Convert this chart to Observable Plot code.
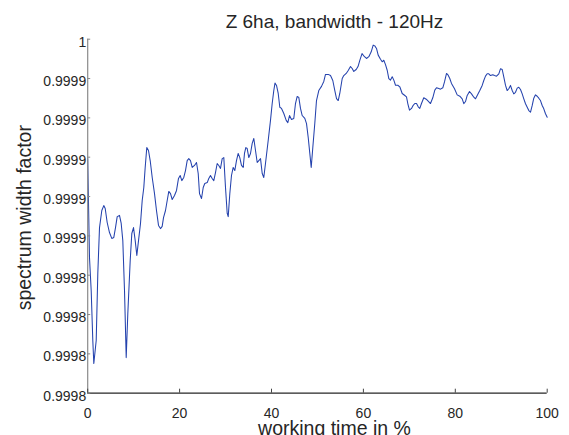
<!DOCTYPE html>
<html><head><meta charset="utf-8">
<script src="https://cdn.jsdelivr.net/npm/d3@7"></script>
<script src="https://cdn.jsdelivr.net/npm/@observablehq/plot@0.6"></script>
<style>body{margin:0;background:#fff}</style>
</head><body><div id="chart"></div>
<script>
const titleText = "Z 6ha, bandwidth - 120Hz";
const xLabel = "working time in %";
const yLabel = "spectrum width factor";
const xTicks = [0, 20, 40, 60, 80, 100];
const yTicks = [0.99982, 0.99984, 0.99986, 0.99988, 0.9999, 0.99992, 0.99994, 0.99996, 0.99998, 1];
const yTickLabels = ["0.9998", "0.9998", "0.9998", "0.9998", "0.9999", "0.9999", "0.9999", "0.9999", "0.9999", "1"];

const timePct = [0,0.39,0.76,1.11,1.33,1.85,2.20,2.57,3.07,3.50,3.81,4.24,4.74,5.24,5.68,6.05,6.42,6.92,7.29,7.64,
8.01,8.38,8.73,9.25,9.60,9.97,10.34,10.69,11.06,11.49,11.86,12.21,12.51,12.86,13.23,13.60,14.04,14.54,14.97,15.41,
15.84,16.21,16.50,16.93,17.30,17.65,18.02,18.39,18.89,19.33,19.76,20.13,20.48,20.91,21.28,21.65,22.00,22.37,22.74,23.24,
23.68,24.05,24.33,24.77,25.14,25.48,26.01,26.35,26.72,27.09,27.44,27.81,28.18,28.53,28.90,29.27,29.62,29.99,30.36,30.58,
30.93,31.29,31.66,32.01,32.38,32.75,33.10,33.47,33.84,34.12,34.41,34.71,35.06,35.43,35.80,36.15,36.52,36.89,37.24,37.61,
37.98,38.32,38.69,39.28,39.78,40.15,40.50,40.76,41.09,41.46,41.81,42.18,42.68,43.20,43.55,43.92,44.35,44.85,45.22,45.59,
45.94,46.31,46.68,47.25,47.62,47.99,48.34,48.64,48.99,49.42,49.79,50.29,50.88,51.38,51.75,52.34,52.84,53.34,53.78,54.15,
54.52,54.86,55.39,55.73,56.26,56.69,57.19,57.56,57.91,58.43,58.83,59.22,59.70,60.24,60.67,61.18,61.70,62.13,62.48,62.85,
63.22,63.72,64.09,64.44,64.81,65.18,65.53,65.90,66.27,66.62,66.99,67.49,67.92,68.44,68.95,69.38,69.66,70.03,70.47,70.84,
71.19,71.56,71.93,72.27,72.64,73.14,73.67,74.10,74.60,75.10,75.54,75.91,76.41,76.78,77.28,77.65,78.09,78.45,78.80,79.17,
79.83,80.41,80.98,81.50,81.85,82.22,82.59,83.09,83.53,84.03,84.40,84.77,85.33,85.85,86.20,86.57,86.94,87.29,87.66,88.16,
88.53,88.97,89.47,89.84,90.21,90.56,90.93,91.29,91.64,92.01,92.38,92.73,93.10,93.47,93.82,94.19,94.56,94.91,95.28,95.65,
96.00,96.37,96.74,97.08,97.45,97.82,98.17,98.54,98.91,99.26,99.63,100];

const widthFactor = [0.9999393,0.9998890,0.9998722,0.9998468,0.9998351,0.9998468,0.9998809,0.9999042,0.9999129,0.9999154,
0.9999139,0.9999068,0.9999017,0.9998987,0.9998992,0.9999042,0.9999098,0.9999104,0.9999063,0.9998976,
0.9998722,0.9998381,0.9998605,0.9998875,0.9999012,0.9999042,0.9998976,0.9998900,0.9998976,0.9999063,
0.9999180,0.9999246,0.9999348,0.9999449,0.9999434,0.9999383,0.9999297,0.9999215,0.9999129,0.9999053,
0.9999037,0.9999048,0.9999093,0.9999129,0.9999180,0.9999226,0.9999215,0.9999185,0.9999205,0.9999231,
0.9999292,0.9999307,0.9999281,0.9999297,0.9999332,0.9999383,0.9999393,0.9999383,0.9999348,0.9999358,
0.9999373,0.9999317,0.9999215,0.9999190,0.9999246,0.9999266,0.9999271,0.9999292,0.9999307,0.9999292,
0.9999281,0.9999322,0.9999368,0.9999358,0.9999343,0.9999393,0.9999398,0.9999246,0.9999114,0.9999098,
0.9999215,0.9999307,0.9999348,0.9999332,0.9999383,0.9999419,0.9999398,0.9999358,0.9999348,0.9999419,
0.9999449,0.9999444,0.9999398,0.9999419,0.9999470,0.9999495,0.9999434,0.9999373,0.9999383,0.9999393,
0.9999317,0.9999297,0.9999368,0.9999485,0.9999587,0.9999673,0.9999739,0.9999777,0.9999765,0.9999724,
0.9999654,0.9999648,0.9999622,0.9999587,0.9999576,0.9999612,0.9999592,0.9999597,0.9999673,0.9999709,
0.9999704,0.9999648,0.9999612,0.9999597,0.9999571,0.9999500,0.9999419,0.9999348,0.9999449,0.9999571,
0.9999688,0.9999739,0.9999760,0.9999785,0.9999821,0.9999821,0.9999815,0.9999790,0.9999739,0.9999698,
0.9999688,0.9999724,0.9999800,0.9999815,0.9999826,0.9999841,0.9999861,0.9999851,0.9999836,0.9999846,
0.9999861,0.9999892,0.9999927,0.9999911,0.9999902,0.9999911,0.9999936,0.9999970,0.9999966,0.9999953,
0.9999919,0.9999898,0.9999885,0.9999893,0.9999871,0.9999842,0.9999800,0.9999792,0.9999809,0.9999792,
0.9999766,0.9999766,0.9999758,0.9999724,0.9999715,0.9999707,0.9999673,0.9999639,0.9999648,0.9999664,
0.9999673,0.9999673,0.9999656,0.9999648,0.9999673,0.9999702,0.9999695,0.9999685,0.9999673,0.9999702,
0.9999741,0.9999753,0.9999749,0.9999746,0.9999753,0.9999783,0.9999826,0.9999817,0.9999800,0.9999775,
0.9999748,0.9999717,0.9999710,0.9999697,0.9999672,0.9999683,0.9999714,0.9999734,0.9999722,0.9999705,
0.9999697,0.9999714,0.9999739,0.9999765,0.9999790,0.9999812,0.9999824,0.9999824,0.9999815,0.9999819,
0.9999815,0.9999812,0.9999824,0.9999850,0.9999846,0.9999807,0.9999765,0.9999739,0.9999748,0.9999765,
0.9999739,0.9999722,0.9999730,0.9999751,0.9999756,0.9999744,0.9999722,0.9999697,0.9999672,0.9999654,
0.9999637,0.9999629,0.9999663,0.9999700,0.9999717,0.9999710,0.9999700,0.9999688,0.9999663,0.9999646,
0.9999621,0.9999603];

const data = timePct.map((t, i) => ({t, v: widthFactor[i]}));
const textColor = "#262626";

const chart = Plot.plot({
  width: 569,
  height: 435,
  marginLeft: 87.2,
  marginRight: 22.3,
  marginTop: 38.7,
  marginBottom: 42.3,
  style: {fontFamily: "'Liberation Sans', Arial, Helvetica, sans-serif", fontSize: "14px", color: textColor, background: "#fff"},
  x: {domain: [0, 100]},
  y: {domain: [0.99982, 1]},
  marks: [
    Plot.line(data, {x: "t", y: "v", stroke: "#2442ad", strokeWidth: 1.05}),
    Plot.ruleX([0], {stroke: "#8a8a8a", strokeWidth: 1.2}),
    Plot.ruleY([0.99982], {stroke: "#262626", strokeWidth: 1.2}),
    Plot.axisX({ticks: xTicks, tickSize: -4, tickFormat: () => "", label: null, stroke: "#444"}),
    Plot.axisX({ticks: xTicks, tickSize: 0, tickPadding: 14.5, label: null, fill: textColor}),
    Plot.axisY({ticks: yTicks, tickSize: -3, tickFormat: () => "", label: null, stroke: "#888"}),
    Plot.axisY({ticks: yTicks, tickSize: 0, tickPadding: 1.5, dy: 3, label: null, fill: textColor,
      tickFormat: d => yTickLabels[yTicks.indexOf(d)]}),
    Plot.text([titleText], {frameAnchor: "top", lineAnchor: "bottom", dx: 17, dy: -11.5, fontSize: 19, fill: textColor}),
    Plot.text([xLabel], {frameAnchor: "bottom", lineAnchor: "bottom", dx: 17, dy: 41.5, fontSize: 19.5, fill: textColor}),
    Plot.text([yLabel], {frameAnchor: "left", textAnchor: "middle", lineAnchor: "bottom", rotate: -90, dx: -57, dy: 1.5, fontSize: 19.5, fill: textColor})
  ]
});
document.getElementById("chart").appendChild(chart);
</script>
</body></html>
